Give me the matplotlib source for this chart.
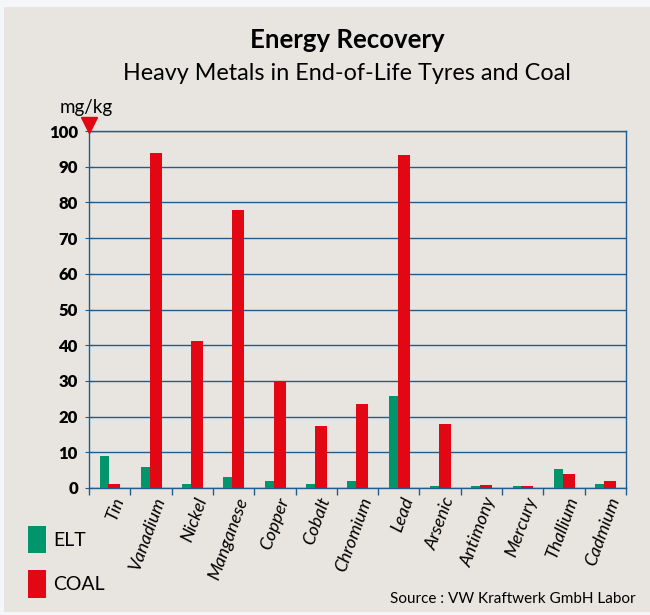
import numpy as np
import matplotlib.pyplot as plt
from matplotlib.patches import Rectangle

metals = ["Tin", "Vanadium", "Nickel", "Manganese", "Copper", "Cobalt", "Chromium",
          "Lead", "Arsenic", "Antimony", "Mercury", "Thallium", "Cadmium"]
elt = [9.0, 6.0, 1.2, 3.2, 2.1, 1.2, 2.1, 25.8, 0.65, 0.65, 0.65, 5.4, 1.2]
coal = [1.2, 93.8, 41.2, 77.9, 30.0, 17.5, 23.6, 93.3, 18.0, 0.9, 0.65, 4.0, 2.1]
yticks = [0, 10, 20, 30, 40, 50, 60, 70, 80, 90, 100]

green = "#00956a"
red = "#e30613"
blue = "#1f5c8f"
panel = "#e8e5e0"

plt.rcParams['font.family'] = ['Lato', 'DejaVu Sans']

fig = plt.figure(figsize=(6.5, 6.15), dpi=100)
fig.patch.set_facecolor("#f5f6fa")
# grey panel behind the chart
fig.patches.append(Rectangle((4 / 650, 0.005), 1.0, 1 - 7 / 615 - 0.005,
                             transform=fig.transFigure, facecolor=panel,
                             edgecolor="none", zorder=-10))

ax = fig.add_axes([89 / 650, 1 - 488 / 615, (626 - 89) / 650, (488 - 131) / 615])
ax.set_facecolor(panel)

x = np.arange(len(metals))
ax.bar(x - 0.135, elt, width=0.22, color=green, zorder=3)
ax.bar(x + 0.115, coal, width=0.29, color=red, zorder=3)

ax.set_xlim(-0.5, len(metals) - 0.5)
ax.set_ylim(0, 100)
ax.set_yticks(yticks)
ax.set_yticklabels([str(v) for v in yticks], fontweight="heavy", fontsize=12)
ax.yaxis.grid(True, color=blue, linewidth=1.0, zorder=1)
ax.tick_params(axis="y", length=6, direction="inout", color=blue, pad=5)

# boundary ticks below the axis, names at centres
ax.set_xticks(np.arange(len(metals) + 1) - 0.5)
ax.set_xticklabels([])
ax.tick_params(axis="x", length=5, direction="out", color=blue, width=1.0)
for i, name in enumerate(metals):
    ax.text(i + 0.05, -2.0, name, rotation=70, ha="right", va="top",
            rotation_mode="anchor", style="italic", fontsize=13)

for s in ax.spines.values():
    s.set_color(blue)
    s.set_linewidth(1.0)

# red marker at top of the axis and unit label
ax.plot([-0.5], [101.8], marker="v", color=red, markersize=12, clip_on=False, zorder=5)
fig.text(86 / 650, 1 - 108 / 615, "mg/kg", ha="center", va="center", fontsize=13.5)

fig.text(347 / 650, 1 - 40 / 615, "Energy Recovery", ha="center", va="center",
         fontsize=18.5, fontweight="bold")
fig.text(347 / 650, 1 - 73 / 615, "Heavy Metals in End-of-Life Tyres and Coal",
         ha="center", va="center", fontsize=16.8)

# legend swatches
fig.patches.append(Rectangle((28 / 650, 1 - 553 / 615), 18 / 650, 27 / 615,
                             transform=fig.transFigure, facecolor=green, edgecolor="none"))
fig.patches.append(Rectangle((28 / 650, 1 - 598 / 615), 18 / 650, 28 / 615,
                             transform=fig.transFigure, facecolor=red, edgecolor="none"))
fig.text(53 / 650, 1 - 540 / 615, "ELT", va="center", fontsize=14)
fig.text(53 / 650, 1 - 584 / 615, "COAL", va="center", fontsize=14)

fig.text(636 / 650, 1 - 599 / 615, "Source : VW Kraftwerk GmbH Labor", ha="right",
         va="center", fontsize=11)

fig.savefig("out.png", dpi=100, facecolor=fig.get_facecolor())
